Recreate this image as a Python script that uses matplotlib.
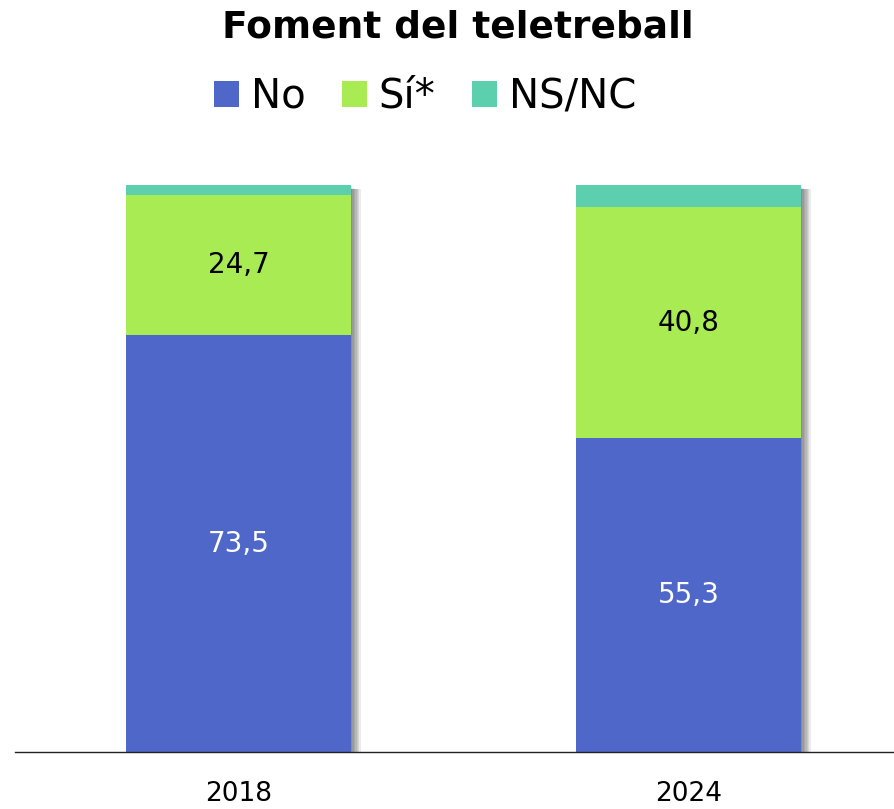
import matplotlib.pyplot as plt
import matplotlib.patheffects as pe
import numpy as np

years = ["2018", "2024"]
no_vals = [73.5, 55.3]
si_vals = [24.7, 40.8]
nsnc_vals = [1.8, 3.9]

c_no = "#4f67c8"
c_si = "#a8eb52"
c_nsnc = "#5ccfae"

fig = plt.figure(figsize=[8.95, 8.09], dpi=100)
ax = fig.add_axes([15 / 895, 57 / 809, 880 / 895, 567 / 809])

x = np.arange(len(years))
w = 0.5
no = np.array(no_vals)
si = np.array(si_vals)
ns = np.array(nsnc_vals)
total = no + si + ns

# soft shadow behind the whole stack, built from a few faint layers
shadow = [pe.SimplePatchShadow(offset=(k, -min(k, 3)), shadow_rgbFace="black", alpha=0.08)
          for k in range(1, 8)]
ax.bar(x, total, w, color="white", zorder=1, path_effects=shadow + [pe.Normal()])
ax.bar(x, no, w, color=c_no, label="No", zorder=2)
ax.bar(x, si, w, bottom=no, color=c_si, label="Sí*", zorder=2)
ax.bar(x, ns, w, bottom=no + si, color=c_nsnc, label="NS/NC", zorder=2)

font = "DejaVu Sans"
for i in x:
    ax.text(i, no[i] / 2, f"{no[i]:.1f}".replace(".", ","), ha="center", va="center",
            color="white", fontsize=20, family=font, zorder=3)
    ax.text(i, no[i] + si[i] / 2, f"{si[i]:.1f}".replace(".", ","), ha="center", va="center",
            color="black", fontsize=20, family=font, zorder=3)

ax.set_xlim(-0.4967, 1.4589)
ax.set_ylim(0, 100)
for s in ["top", "right", "left"]:
    ax.spines[s].set_visible(False)
ax.spines["bottom"].set_color("#222222")
ax.spines["bottom"].set_linewidth(1)
ax.set_yticks([])
ax.set_xticks(x)
ax.set_xticklabels(years, fontsize=19, family=font)
ax.tick_params(axis="x", length=0, pad=21)

fig.text(458 / 895, 1 - 28 / 809, "Foment del teletreball", ha="center", va="center",
         fontsize=27, fontweight="bold", family=font)
fig.legend(loc="center", bbox_to_anchor=(425 / 895, 1 - 97 / 809), ncol=3, frameon=False,
           prop={"family": font, "size": 29}, handlelength=0.62, handleheight=0.62,
           handletextpad=0.3, columnspacing=0.9)

fig.savefig("out.png", dpi=100)
